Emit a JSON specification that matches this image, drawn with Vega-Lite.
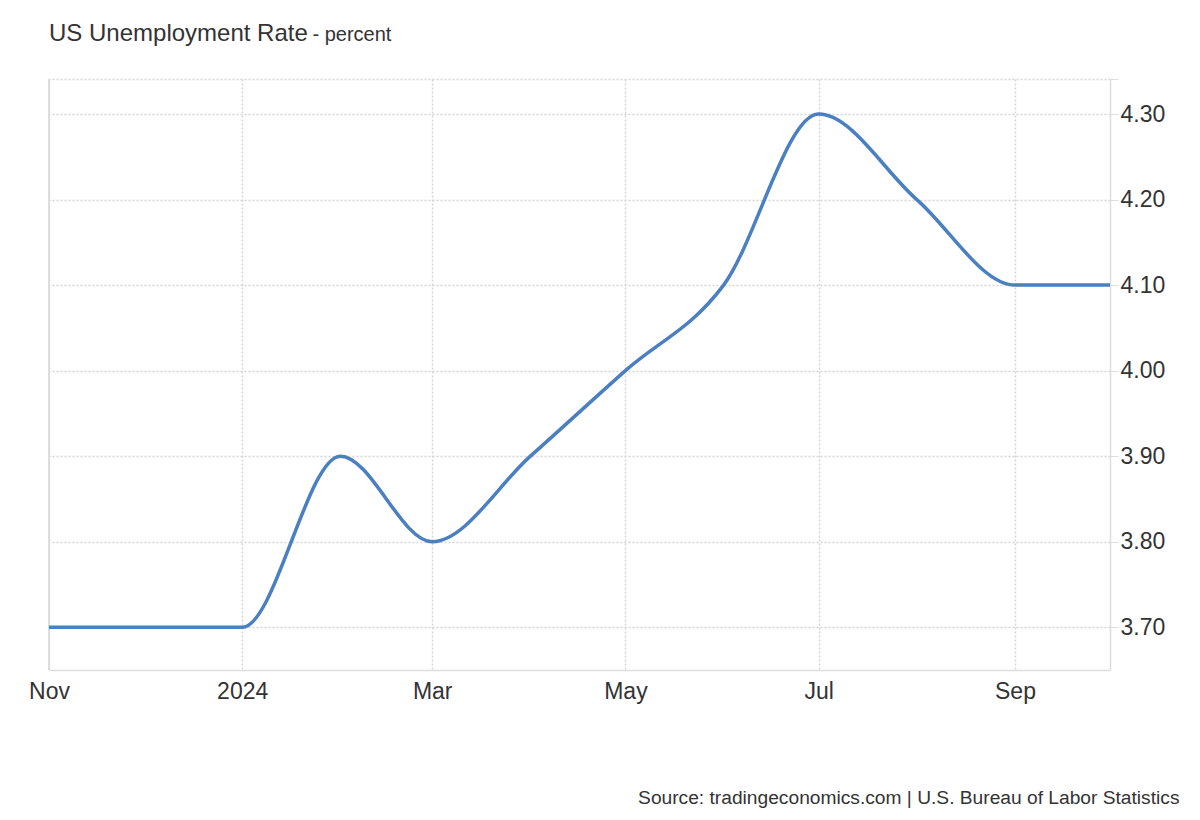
{
  "$schema": "https://vega.github.io/schema/vega-lite/v6.json",
  "autosize": "none",
  "width": 1061,
  "height": 591,
  "padding": {"left": 49, "top": 79, "right": 90, "bottom": 150},
  "background": "#ffffff",
  "config": {
    "font": "Liberation Sans",
    "view": {"stroke": null},
    "axis": {"labelFont": "Liberation Sans", "titleFont": "Liberation Sans"}
  },
  "title": {
    "text": "US Unemployment Rate",
    "anchor": "start",
    "frame": "group",
    "fontSize": 24,
    "fontWeight": "normal",
    "color": "#333333",
    "baseline": "alphabetic",
    "offset": -41,
    "font": "Liberation Sans"
  },
  "data": {
    "values": [
      {"date": "2023-11-01", "rate": 3.7},
      {"date": "2023-12-01", "rate": 3.7},
      {"date": "2024-01-01", "rate": 3.7},
      {"date": "2024-02-01", "rate": 3.9},
      {"date": "2024-03-01", "rate": 3.8},
      {"date": "2024-04-01", "rate": 3.9},
      {"date": "2024-05-01", "rate": 4.0},
      {"date": "2024-06-01", "rate": 4.1},
      {"date": "2024-07-01", "rate": 4.3},
      {"date": "2024-08-01", "rate": 4.2},
      {"date": "2024-09-01", "rate": 4.1},
      {"date": "2024-10-01", "rate": 4.1}
    ]
  },
  "layer": [
    {
      "mark": {"type": "rule", "color": "#dddddd", "strokeWidth": 1.5},
      "encoding": {
        "x": {"datum": {"year": 2023, "month": 11, "date": 1, "utc": true}, "type": "temporal"}
      }
    },
    {
      "mark": {"type": "line", "interpolate": "monotone", "color": "#4a7fc1", "strokeWidth": 3.5},
      "encoding": {
        "x": {
          "field": "date",
          "type": "temporal",
          "scale": {
            "type": "utc",
            "domain": [
              {"year": 2023, "month": 11, "date": 1, "utc": true},
              {"year": 2024, "month": 10, "date": 1, "utc": true}
            ]
          },
          "axis": {
            "values": [
              {"year": 2023, "month": 11, "date": 1, "utc": true},
              {"year": 2024, "month": 1, "date": 1, "utc": true},
              {"year": 2024, "month": 3, "date": 1, "utc": true},
              {"year": 2024, "month": 5, "date": 1, "utc": true},
              {"year": 2024, "month": 7, "date": 1, "utc": true},
              {"year": 2024, "month": 9, "date": 1, "utc": true}
            ],
            "labelExpr": "utcFormat(datum.value, '%m') == '01' ? utcFormat(datum.value, '%Y') : utcFormat(datum.value, '%b')",
            "labelFontSize": 23,
            "labelColor": "#333333",
            "labelPadding": 10,
            "labelFlush": false,
            "labelOverlap": false,
            "ticks": false,
            "domainColor": "#dddddd",
            "domainWidth": 1.5,
            "grid": true,
            "gridColor": "#d4d4d4",
            "gridDash": [2, 2],
            "gridWidth": 1.4,
            "title": "Source: tradingeconomics.com | U.S. Bureau of Labor Statistics",
            "titleFontSize": 19.2,
            "titleFontWeight": "normal",
            "titleColor": "#333333",
            "titleAlign": "right",
            "titleAnchor": null,
            "titleBaseline": "alphabetic",
            "titleX": 1130,
            "titleY": 133
          }
        },
        "y": {
          "field": "rate",
          "type": "quantitative",
          "scale": {"domain": [3.65, 4.341], "zero": false, "nice": false},
          "axis": {
            "orient": "right",
            "values": [3.7, 3.8, 3.9, 4.0, 4.1, 4.2, 4.3, 4.341],
            "labelExpr": "datum.value > 4.32 ? '' : format(datum.value, '.2f')",
            "labelFontSize": 23,
            "labelColor": "#333333",
            "labelPadding": 2,
            "tickSize": 8,
            "tickColor": "#dddddd",
            "domainColor": "#dddddd",
            "domainWidth": 1.5,
            "grid": true,
            "gridColor": "#d4d4d4",
            "gridDash": [2, 2],
            "gridWidth": 1.4,
            "title": "- percent",
            "titleFontSize": 20,
            "titleFontWeight": "normal",
            "titleColor": "#333333",
            "titleAngle": 0,
            "titleAlign": "left",
            "titleBaseline": "alphabetic",
            "titleX": -798,
            "titleY": -39
          }
        }
      }
    }
  ]
}
